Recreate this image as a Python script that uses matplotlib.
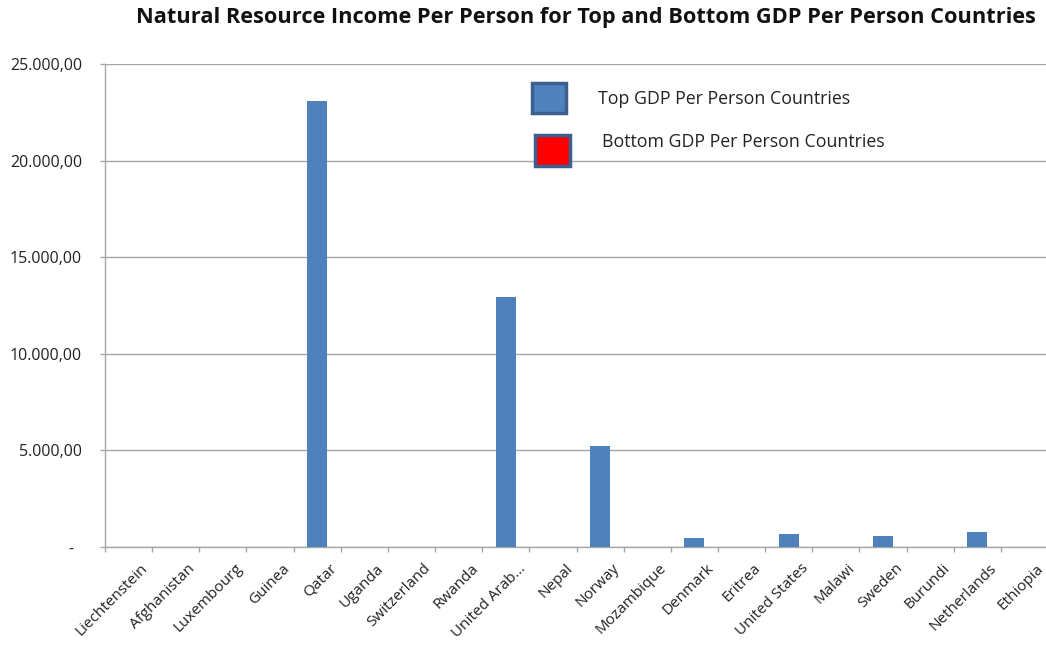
import matplotlib
matplotlib.use("Agg")
import matplotlib.pyplot as plt
from matplotlib.patches import Rectangle
from matplotlib.ticker import FuncFormatter, MultipleLocator, FixedLocator
import matplotlib.transforms as mtransforms
import numpy as np

countries = ["Liechtenstein", "Afghanistan", "Luxembourg", "Guinea", "Qatar", "Uganda",
             "Switzerland", "Rwanda", "United Arab...", "Nepal", "Norway", "Mozambique",
             "Denmark", "Eritrea", "United States", "Malawi", "Sweden", "Burundi",
             "Netherlands", "Ethiopia"]
top_countries = ["Liechtenstein", "Luxembourg", "Qatar", "Switzerland", "United Arab...",
                 "Norway", "Denmark", "United States", "Sweden", "Netherlands"]
top_values = [0, 0, 23100, 0, 12950, 5230, 470, 680, 570, 780]
bottom_countries = ["Afghanistan", "Guinea", "Uganda", "Rwanda", "Nepal", "Mozambique",
                    "Eritrea", "Malawi", "Burundi", "Ethiopia"]
bottom_values = [0, 0, 0, 0, 0, 0, 0, 0, 0, 0]

title = "Natural Resource Income Per Person for Top and Bottom GDP Per Person Countries"
legend_labels = ["Top GDP Per Person Countries", "Bottom GDP Per Person Countries"]

BLUE = "#4F81BD"
RED = "#FF0000"
EDGE = "#3B5F8E"
GRID = "#A6A6A6"

plt.rcParams['font.family'] = ['Open Sans', 'DejaVu Sans']

fig = plt.figure(figsize=(10.46, 6.46), dpi=100)
ax = fig.add_axes([105/1046, 1-547/646, (1048-105)/1046, (547-64)/646])

idx = {c: i for i, c in enumerate(countries)}
xt = [idx[c] for c in top_countries]
xb = [idx[c] for c in bottom_countries]
ax.bar(xt, top_values, width=0.42, color=BLUE, zorder=3)
ax.bar(xb, bottom_values, width=0.42, color=RED, zorder=3)

ax.set_xlim(-0.5, len(countries) - 0.5)
ax.set_ylim(0, 25000)
ax.yaxis.set_major_locator(MultipleLocator(5000))

def fmt(v, pos):
    if v == 0:
        return "-  "
    s = f"{v:,.2f}"
    return s.replace(",", "X").replace(".", ",").replace("X", ".")
ax.yaxis.set_major_formatter(FuncFormatter(fmt))

ax.set_xticks(range(len(countries)))
ax.set_xticklabels(countries, rotation=45, ha='right', rotation_mode='anchor', fontsize=11)
ax.tick_params(axis='x', which='major', length=0, pad=10)
ax.xaxis.set_minor_locator(FixedLocator(np.arange(-0.5, len(countries), 1.0)))
ax.tick_params(axis='x', which='minor', length=3.6, color=GRID, width=1)
ax.tick_params(axis='y', length=3.6, color=GRID, width=1, labelsize=11.5, pad=13)

offset = mtransforms.ScaledTranslation(12/100, 0, fig.dpi_scale_trans)
for lbl in ax.get_xticklabels():
    lbl.set_transform(lbl.get_transform() + offset)
    lbl.set_color("#222222")

ax.grid(axis='y', color=GRID, linewidth=1, zorder=0)
for s in ['top', 'right']:
    ax.spines[s].set_visible(False)
for s in ['left', 'bottom']:
    ax.spines[s].set_color(GRID)
    ax.spines[s].set_linewidth(1)
for lbl in ax.get_yticklabels():
    lbl.set_color("#222222")

fig.text(586/1046, 1-18/646, title, ha='center', va='center', fontsize=15.7,
         fontweight='bold', color='#111111')

# legend drawn as shapes
fig.patches.append(Rectangle((532/1046, 1-113/646), 34/1046, 30/646, transform=fig.transFigure,
                             facecolor=BLUE, edgecolor=EDGE, linewidth=2.5, zorder=5))
fig.patches.append(Rectangle((535/1046, 1-166/646), 35/1046, 31/646, transform=fig.transFigure,
                             facecolor=RED, edgecolor=EDGE, linewidth=2.5, zorder=5))
fig.text(598/1046, 1-99/646, legend_labels[0], ha='left', va='center', fontsize=12.8, color='#222222')
fig.text(602/1046, 1-142/646, legend_labels[1], ha='left', va='center', fontsize=12.8, color='#222222')

fig.savefig("out.png", dpi=100)
